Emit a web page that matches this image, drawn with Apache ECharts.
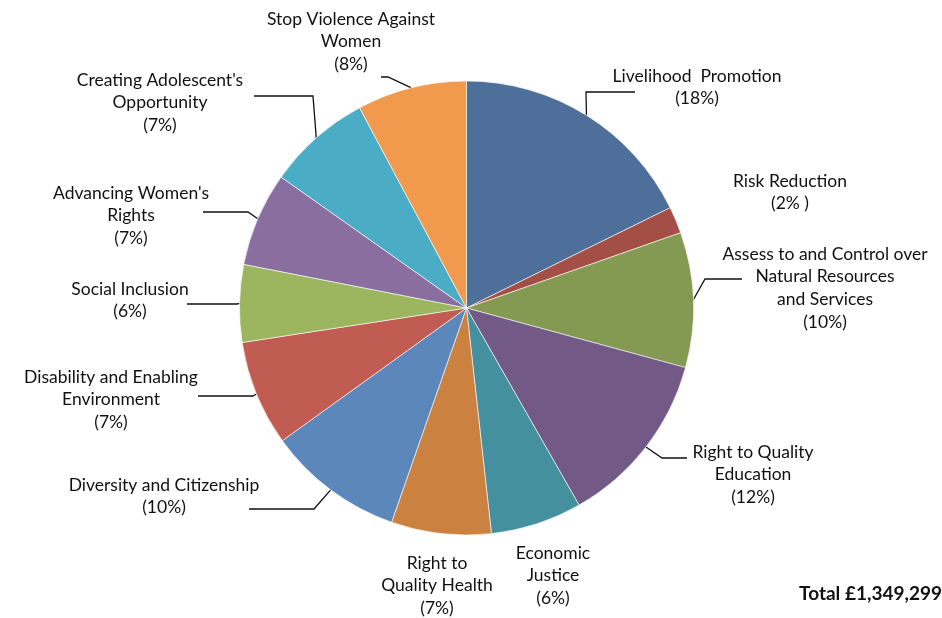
<!DOCTYPE html>
<html>
<head>
<meta charset="utf-8">
<script src="https://cdn.jsdelivr.net/npm/echarts@6/dist/echarts.min.js"></script>
<style>
html,body{margin:0;padding:0;background:#fff;}
#chart{width:942px;height:618px;}
</style>
</head>
<body>
<div id="chart"></div>
<script>
// ---- data ----
const categories = [
  'Livelihood  Promotion',
  'Risk Reduction',
  'Assess to and Control over\nNatural Resources\nand Services',
  'Right to Quality\nEducation',
  'Economic\nJustice',
  'Right to\nQuality Health',
  'Diversity and Citizenship',
  'Disability and Enabling\nEnvironment',
  'Social Inclusion',
  "Advancing Women's\nRights",
  "Creating Adolescent's\nOpportunity",
  'Stop Violence Against\nWomen'
];
const shares = [17.7, 1.9, 9.6, 12.5, 6.5, 7.1, 9.7, 7.5, 5.5, 6.7, 7.4, 7.8];
const pctLabels = ['18%', '2% ', '10%', '12%', '6%', '7%', '10%', '7%', '6%', '7%', '7%', '8%'];
const totalText = 'Total \u00a31,349,299';

// ---- styling / layout ----
const colors = ['#4E6F9A', '#A34F46', '#849A52', '#735986', '#44909F', '#CB813F',
                '#5C87BA', '#C15C52', '#9CB660', '#8A6E9F', '#4BACC6', '#F19A4D'];
// label anchor: [centerX, firstLineCenterY]
const labelPos = [
  [697, 76], [790, 181], [825, 254], [753, 452], [553, 553], [437, 563],
  [164, 485], [111, 377], [130, 289], [131, 193], [160, 80], [351, 19]
];
// leader lines: [elbowX, lineY, endX] or null
const leaders = [
  [586, 92, 635], null, [705, 279, 742], [662, 458, 687], null, null,
  [314, 509, 249], [253, 396, 198], [237, 304, 187], [248, 212, 203],
  [313, 96, 254], [388, 77, 381]
];
const LH = 22.7;

const data = categories.map((name, i) => ({
  name: name,
  value: shares[i],
  itemStyle: { color: colors[i] },
  labelLine: { show: leaders[i] !== null }
}));

const chart = echarts.init(document.getElementById('chart'), null, { renderer: 'canvas' });
chart.setOption({
  animation: false,
  graphic: [{
    type: 'text',
    right: 0,
    top: 584,
    style: {
      text: totalText,
      font: 'bold 19px Lato',
      fill: '#111'
    }
  }],
  series: [{
    type: 'pie',
    center: [466.5, 308],
    radius: 227,
    startAngle: 90,
    clockwise: true,
    avoidLabelOverlap: false,
    data: data,
    itemStyle: { borderColor: '#ffffff', borderWidth: 0.6 },
    label: {
      show: true,
      position: 'outside',
      formatter: p => p.name + '\n(' + pctLabels[p.dataIndex] + ')',
      fontFamily: 'Lato',
      fontSize: 17.5,
      lineHeight: LH,
      color: '#111',
      align: 'center'
    },
    labelLine: {
      show: true,
      length: 10,
      length2: 10,
      lineStyle: { color: '#111', width: 1.3 }
    },
    labelLayout: function (params) {
      const i = params.dataIndex;
      const pos = labelPos[i];
      const out = {
        x: pos[0],
        y: pos[1] - LH / 2,
        align: 'center',
        verticalAlign: 'top'
      };
      const ld = leaders[i];
      if (ld && params.labelLinePoints && params.labelLinePoints.length) {
        const edge = params.labelLinePoints[0];
        out.labelLinePoints = [edge, [ld[0], ld[1]], [ld[2], ld[1]]];
      }
      return out;
    }
  }]
});
</script>
</body>
</html>
